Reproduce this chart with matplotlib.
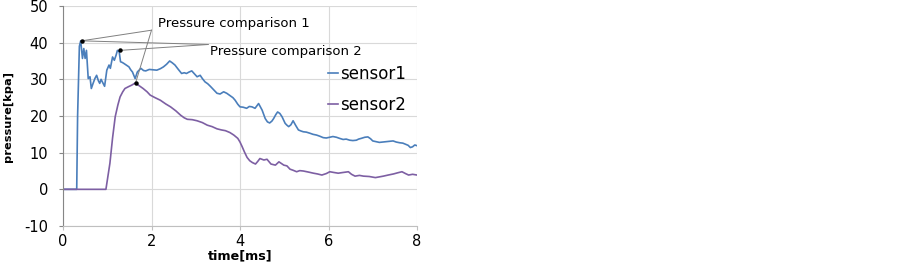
import numpy as np
import matplotlib.pyplot as plt

plt.rcParams['axes.unicode_minus'] = False

# sensor1 (time in ms, pressure in kpa)
t1 = [0.0, 0.31, 0.33, 0.37, 0.40, 0.44, 0.47, 0.50, 0.53, 0.57, 0.61, 0.64, 0.68,
      0.72, 0.76, 0.80, 0.83, 0.86, 0.89, 0.94, 0.99, 1.04, 1.07, 1.12, 1.16, 1.20,
      1.23, 1.27, 1.30, 1.34, 1.38, 1.44, 1.49, 1.53, 1.57, 1.63, 1.68, 1.76, 1.82,
      1.87, 1.95, 2.03, 2.12, 2.20, 2.27, 2.34, 2.41, 2.47, 2.53, 2.60, 2.68, 2.74,
      2.79, 2.85, 2.91, 2.97, 3.03, 3.10, 3.15, 3.21, 3.27, 3.33, 3.40, 3.48, 3.55,
      3.63, 3.70, 3.78, 3.84, 3.89, 3.95, 4.00, 4.07, 4.15, 4.21, 4.27, 4.34, 4.42,
      4.50, 4.57, 4.62, 4.67, 4.72, 4.76, 4.81, 4.85, 4.90, 4.95, 5.02, 5.06, 5.10,
      5.15, 5.20, 5.26, 5.32, 5.38, 5.43, 5.50, 5.58, 5.65, 5.73, 5.80, 5.88, 5.95,
      6.03, 6.10, 6.18, 6.25, 6.33, 6.40, 6.48, 6.55, 6.63, 6.68, 6.74, 6.82, 6.89,
      6.95, 7.00, 7.08, 7.15, 7.22, 7.30, 7.38, 7.46, 7.53, 7.61, 7.68, 7.74, 7.80,
      7.85, 7.90, 7.95, 8.00]
p1 = [0.0, 0.0, 20.0, 39.0, 40.5, 35.7, 38.4, 35.7, 37.9, 30.2, 30.7, 27.5, 28.9,
      30.2, 31.1, 29.6, 28.9, 30.0, 29.3, 28.1, 32.5, 33.9, 33.0, 36.1, 35.2, 36.6,
      37.9, 37.5, 34.8, 34.6, 34.3, 33.8, 33.4, 32.6, 32.0, 30.2, 32.0, 33.0, 32.4,
      32.3, 32.7, 32.6, 32.5, 32.9, 33.4, 34.1, 35.0, 34.5, 33.9, 32.8, 31.6, 31.8,
      31.6, 32.0, 32.3, 31.5, 30.7, 31.1, 30.2, 29.3, 28.8, 28.1, 27.2, 26.2, 26.0,
      26.6, 26.2, 25.5, 25.0, 24.3, 23.2, 22.5, 22.4, 22.1, 22.6, 22.5, 22.1, 23.4,
      21.6, 19.3, 18.4, 18.1, 18.6, 19.3, 20.4, 21.1, 20.7, 19.8, 18.0, 17.5, 17.1,
      17.6, 18.7, 17.4, 16.2, 15.9, 15.7, 15.6, 15.3, 15.0, 14.8, 14.5, 14.1, 14.0,
      14.2, 14.4, 14.2, 13.9, 13.6, 13.7, 13.4, 13.3, 13.4, 13.7, 13.9, 14.2, 14.3,
      13.8, 13.2, 13.0, 12.8, 12.9, 13.0, 13.1, 13.2, 12.9, 12.7, 12.6, 12.3, 12.0,
      11.4, 11.6, 12.1, 11.9]

# sensor2
t2 = [0.0, 0.97, 1.06, 1.12, 1.18, 1.24, 1.29, 1.35, 1.40, 1.48, 1.55, 1.62, 1.67,
      1.74, 1.81, 1.90, 1.97, 2.08, 2.20, 2.32, 2.43, 2.55, 2.66, 2.74, 2.81, 2.92,
      3.03, 3.15, 3.26, 3.37, 3.48, 3.58, 3.67, 3.77, 3.86, 3.95, 4.00, 4.05, 4.10,
      4.16, 4.22, 4.28, 4.35, 4.40, 4.45, 4.54, 4.61, 4.70, 4.80, 4.88, 4.99, 5.06,
      5.13, 5.20, 5.28, 5.35, 5.43, 5.55, 5.66, 5.75, 5.85, 5.95, 6.03, 6.12, 6.22,
      6.33, 6.45, 6.52, 6.60, 6.70, 6.79, 6.92, 7.06, 7.15, 7.24, 7.35, 7.47, 7.56,
      7.66, 7.74, 7.81, 7.90, 8.00]
p2 = [0.0, 0.0, 7.1, 14.0, 19.8, 23.0, 25.2, 26.6, 27.5, 28.0, 28.4, 28.9, 28.7,
      28.1, 27.5, 26.6, 25.7, 25.0, 24.3, 23.3, 22.5, 21.4, 20.2, 19.5, 19.1, 19.0,
      18.7, 18.2, 17.5, 17.1, 16.5, 16.2, 16.0, 15.5, 14.8, 13.9, 12.9, 11.6, 10.2,
      8.7, 7.8, 7.3, 6.9, 7.6, 8.4, 8.0, 8.2, 6.9, 6.6, 7.5, 6.6, 6.4, 5.5, 5.2,
      4.8, 5.1, 5.0, 4.7, 4.4, 4.2, 3.9, 4.3, 4.8, 4.6, 4.4, 4.6, 4.8, 4.1, 3.6,
      3.8, 3.6, 3.5, 3.2, 3.4, 3.6, 3.9, 4.2, 4.5, 4.8, 4.3, 3.9, 4.1, 3.9]

# points picked out by the callouts
peak1 = (0.42, 40.5)
peak1b = (1.29, 37.9)
peak2 = (1.64, 29.0)
joint1 = (2.00, 43.4)
joint2 = (3.28, 39.5)

fig = plt.figure(figsize=(9.03, 2.68), dpi=100)
ax = fig.add_axes([63/903, 1-226/268, (417-63)/903, (226-6)/268])

ax.plot(t1, p1, color='#4a7ebb', lw=1.2, label='sensor1')
ax.plot(t2, p2, color='#7d5fa3', lw=1.2, label='sensor2')

ax.set_xlim(0, 8)
ax.set_ylim(-10, 50)
ax.set_xticks([0, 2, 4, 6, 8])
ax.set_yticks(np.arange(-10, 51, 10))
ax.grid(True, color='#d9d9d9', lw=0.8)
ax.set_axisbelow(True)
for s in ['top', 'right']:
    ax.spines[s].set_visible(False)
ax.spines['left'].set_color('#868686')
ax.spines['bottom'].set_color('#bfbfbf')
ax.tick_params(axis='y', direction='out', length=3, color='#868686', labelsize=10.5, pad=7.5)
ax.tick_params(axis='x', direction='out', length=3, color='#bfbfbf', labelsize=10.5, pad=3)

ax.set_xlabel('time[ms]', fontweight='bold', fontsize=9.2, labelpad=0)
ax.set_ylabel('pressure[kpa]', fontweight='bold', fontsize=8.2, labelpad=8)

# callout lines
for a, b in [(joint1, peak1), (joint1, peak2), (joint2, peak1), (joint2, peak1b)]:
    ax.plot([a[0], b[0]], [a[1], b[1]], color='#808080', lw=0.7, zorder=4)
ax.plot([peak1[0], peak1b[0], peak2[0]], [peak1[1], peak1b[1], peak2[1]],
        'o', color='black', ms=2.2, zorder=5)
ax.text(2.15, 45.3, 'Pressure comparison 1', fontsize=9.5, va='center', ha='left')
ax.text(3.32, 37.7, 'Pressure comparison 2', fontsize=9.5, va='center', ha='left')

ax.legend(loc='upper left', bbox_to_anchor=(328/903, 1-65/268), bbox_transform=fig.transFigure,
          frameon=False, fontsize=12, handlelength=0.6, handletextpad=0.1,
          labelspacing=0.75, borderpad=0, borderaxespad=0)

fig.savefig('out.png', dpi=100)
